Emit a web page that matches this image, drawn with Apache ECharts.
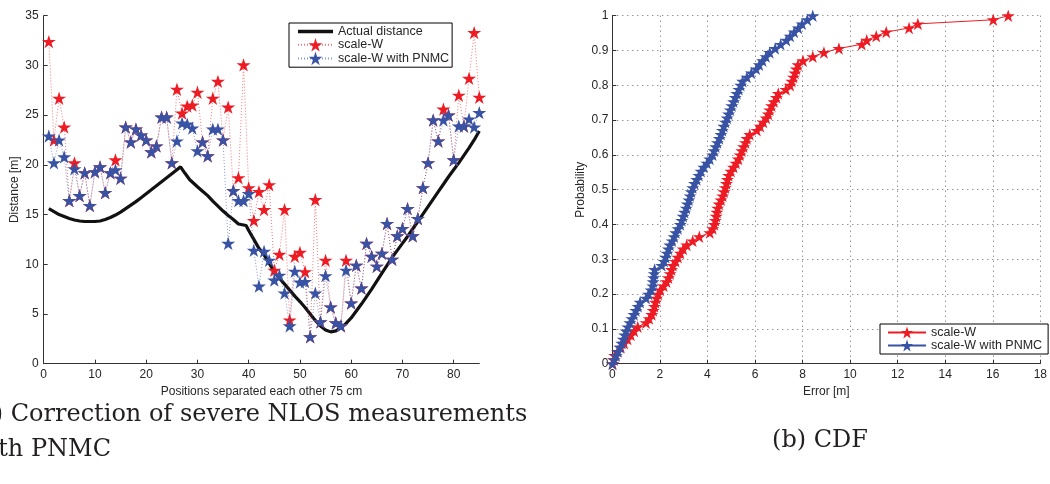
<!DOCTYPE html>
<html>
<head>
<meta charset="utf-8">
<script src="https://cdn.jsdelivr.net/npm/echarts@6/dist/echarts.min.js"></script>
<style>html,body{margin:0;padding:0;background:#fff}#c{width:1050px;height:484px}</style>
</head>
<body>
<div id="c"></div>
<script>
// ---------- (a) Correction of severe NLOS measurements ----------
const positions = [1,2,3,4,5,6,7,8,9,10,11,12,13,14,15,16,17,18,19,20,21,22,23,24,25,26,27,28,29,30,
  31,32,33,34,35,36,37,38,39,40,41,42,43,44,45,46,47,48,49,50,51,52,53,54,55,56,57,58,59,60,
  61,62,63,64,65,66,67,68,69,70,71,72,73,74,75,76,77,78,79,80,81,82,83,84,85];

const scaleW = [32.4,22.5,26.7,23.8,16.4,20.2,16.9,19.2,15.9,19.3,19.8,17.2,19.2,20.5,18.65,23.8,22.3,23.6,23.0,22.5,
  21.3,21.9,24.8,24.8,20.2,27.6,25.2,25.9,26.0,27.3,22.3,20.9,26.7,28.4,22.5,25.8,17.4,18.7,30.05,17.7,
  14.4,17.3,15.5,18.0,9.4,11.0,15.5,4.4,10.8,11.2,9.25,2.7,16.5,4.2,10.4,5.7,4.1,3.8,10.4,6.1,
  9.9,7.6,12.1,10.8,9.8,11.1,14.1,10.5,12.85,13.6,15.6,12.85,14.6,17.7,20.2,24.5,22.4,25.6,25.0,20.5,
  27.0,23.9,28.7,33.3,26.8];

const scaleWPNMC = [22.9,20.2,22.5,20.8,16.4,19.6,16.9,19.2,15.9,19.3,19.8,17.2,19.2,19.5,18.65,23.8,22.3,23.6,23.0,22.5,
  21.3,21.9,24.8,24.8,20.2,22.4,24.2,24.1,23.7,21.4,22.3,20.9,23.6,23.6,22.5,12.1,17.4,16.4,16.4,17.1,
  11.4,7.8,11.3,10.4,8.4,8.9,7.1,3.8,9.3,8.2,8.25,2.7,7.1,4.2,8.85,5.7,4.1,3.8,9.4,6.1,
  9.9,7.6,12.1,10.8,9.8,11.1,14.1,10.5,12.85,13.6,15.6,12.85,14.6,17.7,20.2,24.5,22.4,24.5,25.0,20.5,
  23.9,23.9,24.6,23.8,25.25];

const actualX = [1,2,3,4,5,6,7,8,9,10,11,12,13,14,15,16,17,18,19,20,21,22,23,24,25,26,26.7,27.5,28.5,30,
  31,32,33,34,35,36,37,38,39,39.5,40,41,42,43,44,45,46,47,48,49,50,51,52,53,54,55,56,57,58,59,
  60,61,62,63,64,65,66,67,68,69,70,71,72,73,74,75,76,77,78,79,80,81,82,83,84,85];
const actualY = [15.6,15.3,15.0,14.8,14.6,14.45,14.35,14.3,14.3,14.3,14.35,14.5,14.7,14.95,15.25,15.6,15.95,16.3,16.7,17.1,17.5,17.9,18.3,18.7,19.1,19.5,19.8,19.2,18.5,17.8,
  17.35,16.9,16.35,15.85,15.35,14.9,14.5,14.05,13.95,13.9,13.4,12.5,11.6,10.95,10.1,9.2,8.6,8.0,7.4,6.8,6.25,5.65,5.0,4.35,3.8,3.4,3.2,3.3,3.6,4.05,
  4.6,5.3,6.0,6.75,7.5,8.3,9.1,9.9,10.7,11.4,12.1,12.8,13.55,14.3,15.05,15.8,16.55,17.3,18.05,18.8,19.5,20.2,20.95,21.7,22.5,23.4];

// ---------- (b) CDF : sorted errors [m] ----------
const errScaleW = [0.02,0.05,0.10,0.22,0.36,0.50,0.64,0.78,0.92,1.07,1.42,1.55,1.66,1.72,1.77,1.81,1.86,1.93,2.02,2.16,
  2.28,2.36,2.43,2.49,2.55,2.66,2.76,2.86,2.98,3.13,3.38,3.66,4.10,4.22,4.29,4.33,4.37,4.40,4.43,4.49,
  4.57,4.64,4.70,4.75,4.80,4.84,4.89,4.99,5.10,5.20,5.30,5.37,5.45,5.52,5.60,5.66,5.78,6.08,6.22,6.35,
  6.47,6.56,6.62,6.70,6.80,6.90,6.98,7.30,7.48,7.55,7.62,7.68,7.74,7.81,8.02,8.43,8.90,9.53,10.49,10.70,
  11.10,11.52,12.48,12.85,16.02,16.65];
const errPNMC = [0.00,0.08,0.16,0.24,0.32,0.40,0.46,0.52,0.58,0.65,0.74,0.82,0.91,0.99,1.08,1.17,1.42,1.52,1.63,1.70,
  1.72,1.74,1.76,1.78,2.08,2.18,2.24,2.30,2.36,2.42,2.52,2.60,2.67,2.76,2.86,2.92,2.98,3.04,3.11,3.16,
  3.22,3.27,3.32,3.38,3.46,3.55,3.64,3.73,3.85,3.98,4.10,4.22,4.28,4.35,4.42,4.50,4.57,4.63,4.69,4.76,
  4.83,4.89,4.96,5.03,5.10,5.17,5.24,5.32,5.40,5.48,5.66,5.85,6.05,6.18,6.32,6.46,6.62,6.85,7.08,7.32,
  7.48,7.65,7.82,7.98,8.20,8.43];

const RED = '#ED1C24', BLUE = '#3953A4', INK = '#262626';
const STAR = 'path://M100,0L122.45,69.1L195.11,69.1L136.33,111.8L158.78,180.9L100,138.2L41.22,180.9L63.67,111.8L4.89,69.1L77.55,69.1Z';
const FONT = 'Liberation Sans';

function pairs(xs, ys) { return xs.map((x, i) => [x, ys[i]]); }
function ecdf(errs) { const n = errs.length - 1; return errs.map((e, i) => [e, i / n]); }

const axisCommon = {
  axisLine: { lineStyle: { color: '#333', width: 1 } },
  axisTick: { inside: true, length: 4, lineStyle: { color: '#333' } },
  nameTextStyle: { fontSize: 12, color: INK, fontFamily: FONT },
  nameLocation: 'middle'
};

const chart = echarts.init(document.getElementById('c'));
chart.setOption({
  animation: false,
  backgroundColor: '#fff',
  grid: [
    { left: 43.7, top: 15.7, width: 435.6, height: 348 },
    { left: 612.3, top: 15.7, width: 436.5, height: 348 }
  ],
  xAxis: [
    Object.assign({}, axisCommon, {
      gridIndex: 0, type: 'value', min: 0, max: 85, interval: 10,
      name: 'Positions separated each other 75 cm', nameGap: 19,
      axisLabel: { fontSize: 12, color: INK, fontFamily: FONT, margin: 5, showMaxLabel: false },
      splitLine: { show: false }
    }),
    Object.assign({}, axisCommon, {
      gridIndex: 1, type: 'value', min: 0, max: 18, interval: 2,
      name: 'Error [m]', nameGap: 19,
      axisLabel: { fontSize: 12, color: INK, fontFamily: FONT, margin: 5 },
      splitLine: { show: true, lineStyle: { type: [1, 4], color: '#666', width: 1 } }
    })
  ],
  yAxis: [
    Object.assign({}, axisCommon, {
      gridIndex: 0, type: 'value', min: 0, max: 35, interval: 5,
      name: 'Distance [m]', nameGap: 23, nameRotate: 90,
      axisLabel: { fontSize: 12, color: INK, fontFamily: FONT, margin: 5 },
      splitLine: { show: false }
    }),
    Object.assign({}, axisCommon, {
      gridIndex: 1, type: 'value', min: 0, max: 1, interval: 0.1,
      name: 'Probability', nameGap: 26, nameRotate: 90,
      axisLabel: { fontSize: 12, color: INK, fontFamily: FONT, margin: 4,
        formatter: v => (v === 0 ? '0' : v === 1 ? '1' : v.toFixed(1)) },
      splitLine: { show: true, lineStyle: { type: [1, 4], color: '#666', width: 1 } }
    })
  ],
  legend: [
    {
      left: 289, top: 23, orient: 'vertical', selectedMode: false,
      itemWidth: 35, itemHeight: 17, itemGap: 0, padding: [2, 3, 2, 8],
      borderColor: '#000', borderWidth: 1, backgroundColor: '#fff',
      textStyle: { fontSize: 12.5, color: INK, fontFamily: FONT },
      data: [
        { name: 'Actual distance', icon: 'path://M0,0H100V10H0Z', itemStyle: { color: '#111' } },
        'scale-W', 'scale-W with PNMC'
      ]
    },
    {
      left: 880, top: 324, orient: 'vertical', selectedMode: false,
      itemWidth: 38, itemHeight: 15, itemGap: 0, padding: [2, 6, 2, 7],
      borderColor: '#000', borderWidth: 1, backgroundColor: '#fff',
      textStyle: { fontSize: 12.5, color: INK, fontFamily: FONT },
      formatter: n => n.split('|')[0],
      data: ['scale-W|cdf', 'scale-W with PNMC|cdf']
    }
  ],
  series: [
    {
      name: 'Actual distance', type: 'line', xAxisIndex: 0, yAxisIndex: 0,
      data: pairs(actualX, actualY), symbol: 'none',
      lineStyle: { color: '#111', width: 3.2 }, z: 1
    },
    {
      name: 'scale-W', type: 'line', xAxisIndex: 0, yAxisIndex: 0,
      data: pairs(positions, scaleW), symbol: STAR, symbolSize: 14, symbolKeepAspect: true,
      itemStyle: { color: RED }, lineStyle: { color: RED, width: 1, type: [1, 2], opacity: 0.6 }, z: 2
    },
    {
      name: 'scale-W with PNMC', type: 'line', xAxisIndex: 0, yAxisIndex: 0,
      data: pairs(positions, scaleWPNMC), symbol: STAR, symbolSize: 14, symbolKeepAspect: true,
      itemStyle: { color: BLUE }, lineStyle: { color: BLUE, width: 1, type: [1, 2], opacity: 0.6 }, z: 3
    },
    {
      name: 'scale-W|cdf', type: 'line', xAxisIndex: 1, yAxisIndex: 1,
      data: ecdf(errScaleW), symbol: STAR, symbolSize: 13, symbolKeepAspect: true,
      itemStyle: { color: RED }, lineStyle: { color: RED, width: 1 }, z: 2
    },
    {
      name: 'scale-W with PNMC|cdf', type: 'line', xAxisIndex: 1, yAxisIndex: 1,
      data: ecdf(errPNMC), symbol: STAR, symbolSize: 13, symbolKeepAspect: true,
      itemStyle: { color: BLUE }, lineStyle: { color: BLUE, width: 1 }, z: 3
    }
  ],
  graphic: [
    {
      type: 'text', x: -30, y: 397,
      style: { text: '(a) Correction of severe NLOS measurements\nwith PNMC',
        font: '24px "DejaVu Serif"', fill: '#231f20', lineHeight: 35, verticalAlign: 'top' }
    },
    {
      type: 'text', x: 820, y: 429,
      style: { text: '(b) CDF', font: '24px "DejaVu Serif"', fill: '#231f20', align: 'center', verticalAlign: 'top' }
    }
  ]
});
</script>
</body>
</html>
